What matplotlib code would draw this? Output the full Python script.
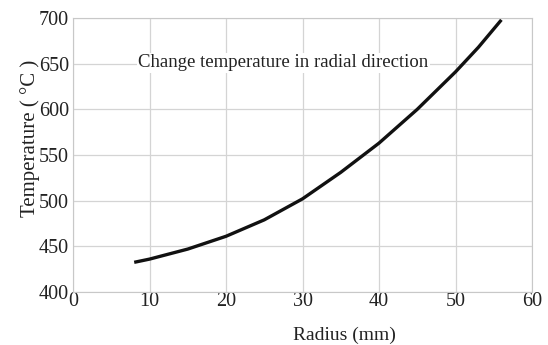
import matplotlib
matplotlib.use("Agg")
from matplotlib import pyplot as plt

# values
radius = [8, 10, 15, 20, 25, 30, 35, 40, 45, 50, 53, 56]
temperature = [432.5, 436, 447, 461, 479, 502, 531, 563, 600, 641, 668, 698]
x_ticks = [0, 10, 20, 30, 40, 50, 60]
y_ticks = [400, 450, 500, 550, 600, 650, 700]

plt.rcParams["font.family"] = ["Liberation Serif", "DejaVu Serif"]

fig = plt.figure(figsize=(5.48, 3.45), dpi=100)
ax = fig.add_axes([73 / 548, 1 - 292 / 345, (532 - 73) / 548, (292 - 18) / 345])

ax.plot(radius, temperature, color="#111111", lw=2.4,
        solid_capstyle="butt", solid_joinstyle="round")

ax.set_xlim(0, 60)
ax.set_ylim(400, 700)
ax.set_xticks(x_ticks)
ax.set_yticks(y_ticks)
ax.grid(True, color="#d4d4d4", lw=0.9)
ax.set_axisbelow(True)
for s in ax.spines.values():
    s.set_color("#c8c8c8")
ax.tick_params(length=0, labelsize=14.5, colors="#222222")
ax.tick_params(axis="x", pad=0)
ax.tick_params(axis="y", pad=3)

ax.text(27.5, 651, "Change temperature in radial direction", fontsize=13.5,
        ha="center", va="center", color="#222222",
        bbox=dict(facecolor="white", edgecolor="none", pad=1))

ax.set_xlabel("Radius (mm)", fontsize=14, color="#222222")
ax.xaxis.set_label_coords((344 - 73) / (532 - 73), -(335 - 292) / (292 - 18))
ax.xaxis.label.set_va("center")
ax.set_ylabel("Temperature ( °C )", fontsize=15, color="#222222")
ax.yaxis.set_label_coords(-(73 - 30) / (532 - 73), (292 - 138) / (292 - 18))
ax.yaxis.label.set_va("center")

fig.savefig("out.png", dpi=100)
